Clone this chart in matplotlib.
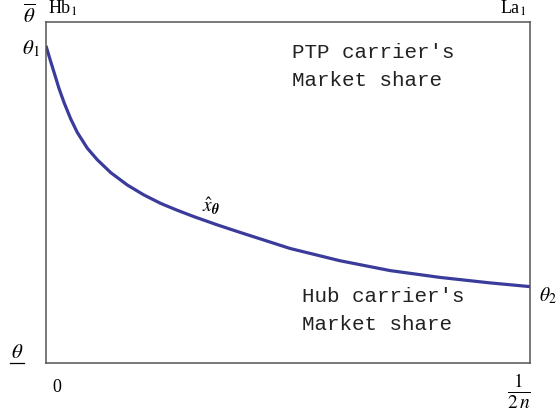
import matplotlib
matplotlib.use("Agg")
import matplotlib.pyplot as plt
from matplotlib.lines import Line2D

plt.rcParams['mathtext.fontset'] = 'stix'
plt.rcParams['font.family'] = ['Liberation Serif', 'DejaVu Serif']

# curve x_hat_theta, x from 0 to 1/(2n), y from theta_low to theta_bar (normalized)
x_vals = [0.0, 0.0097, 0.0165, 0.0269, 0.0372, 0.051, 0.0647, 0.0853, 0.106, 0.134,
          0.168, 0.202, 0.237, 0.271, 0.306, 0.354, 0.401, 0.504, 0.607, 0.711,
          0.814, 0.917, 1.0]
y_vals = [0.930, 0.884, 0.853, 0.805, 0.764, 0.716, 0.676, 0.630, 0.596, 0.558,
          0.522, 0.493, 0.468, 0.448, 0.429, 0.405, 0.383, 0.336, 0.300, 0.271,
          0.251, 0.235, 0.224]

W, H = 559, 416
fig = plt.figure(figsize=(W / 100, H / 100), dpi=100)
L, R, T, B = 46, 530, 22, 363
ax = fig.add_axes([L / W, 1 - B / H, (R - L) / W, (B - T) / H])
ax.plot(x_vals, y_vals, color='#3b3b9c', lw=2.3, solid_capstyle='butt',
        solid_joinstyle='round')
ax.set_xlim(0, 1)
ax.set_ylim(0, 1)
ax.set_xticks([])
ax.set_yticks([])
for s in ax.spines.values():
    s.set_color('#555555')
    s.set_linewidth(1.1)


def px(x, y):
    return (x / W, 1 - y / H)


def ftext(x, y, s, **kw):
    fig.text(*px(x, y), s, **kw)


mono = dict(family='Liberation Mono', fontsize=15, ha='left', va='baseline', color='#222222')
ftext(292, 58, "PTP carrier's", **mono)
ftext(292, 86, "Market share", **mono)
ftext(302, 302.5, "Hub carrier's", **mono)
ftext(302, 330, "Market share", **mono)

ftext(29, 16, r'$\overline{\theta}$', fontsize=15, ha='center', va='center')
ftext(48, 14, r'Hb$_{\mathrm{1}}$', fontsize=13, ha='left', va='baseline')
ftext(500, 14, r'La$_{\mathrm{1}}$', fontsize=13, ha='left', va='baseline')
ftext(31, 49, r'$\theta_1$', fontsize=15, ha='center', va='center')
ftext(557, 296, r'$\theta_2$', fontsize=14, ha='right', va='center')
ftext(17, 353, r'$\theta$', fontsize=15, ha='center', va='center')
fig.add_artist(Line2D([px(10, 0)[0], px(24, 0)[0]], [px(0, 363)[1]] * 2,
                      transform=fig.transFigure, color='black', lw=0.9))
ftext(57, 388, '0', fontsize=13, ha='center', va='center')
ftext(519, 391, r'$\frac{1}{2\,n}$', fontsize=20, ha='center', va='center')
ftext(211, 206, r'$\hat{x}_{\boldsymbol{\theta}}$', fontsize=14, ha='center', va='center')

fig.savefig('out.png', dpi=100)
